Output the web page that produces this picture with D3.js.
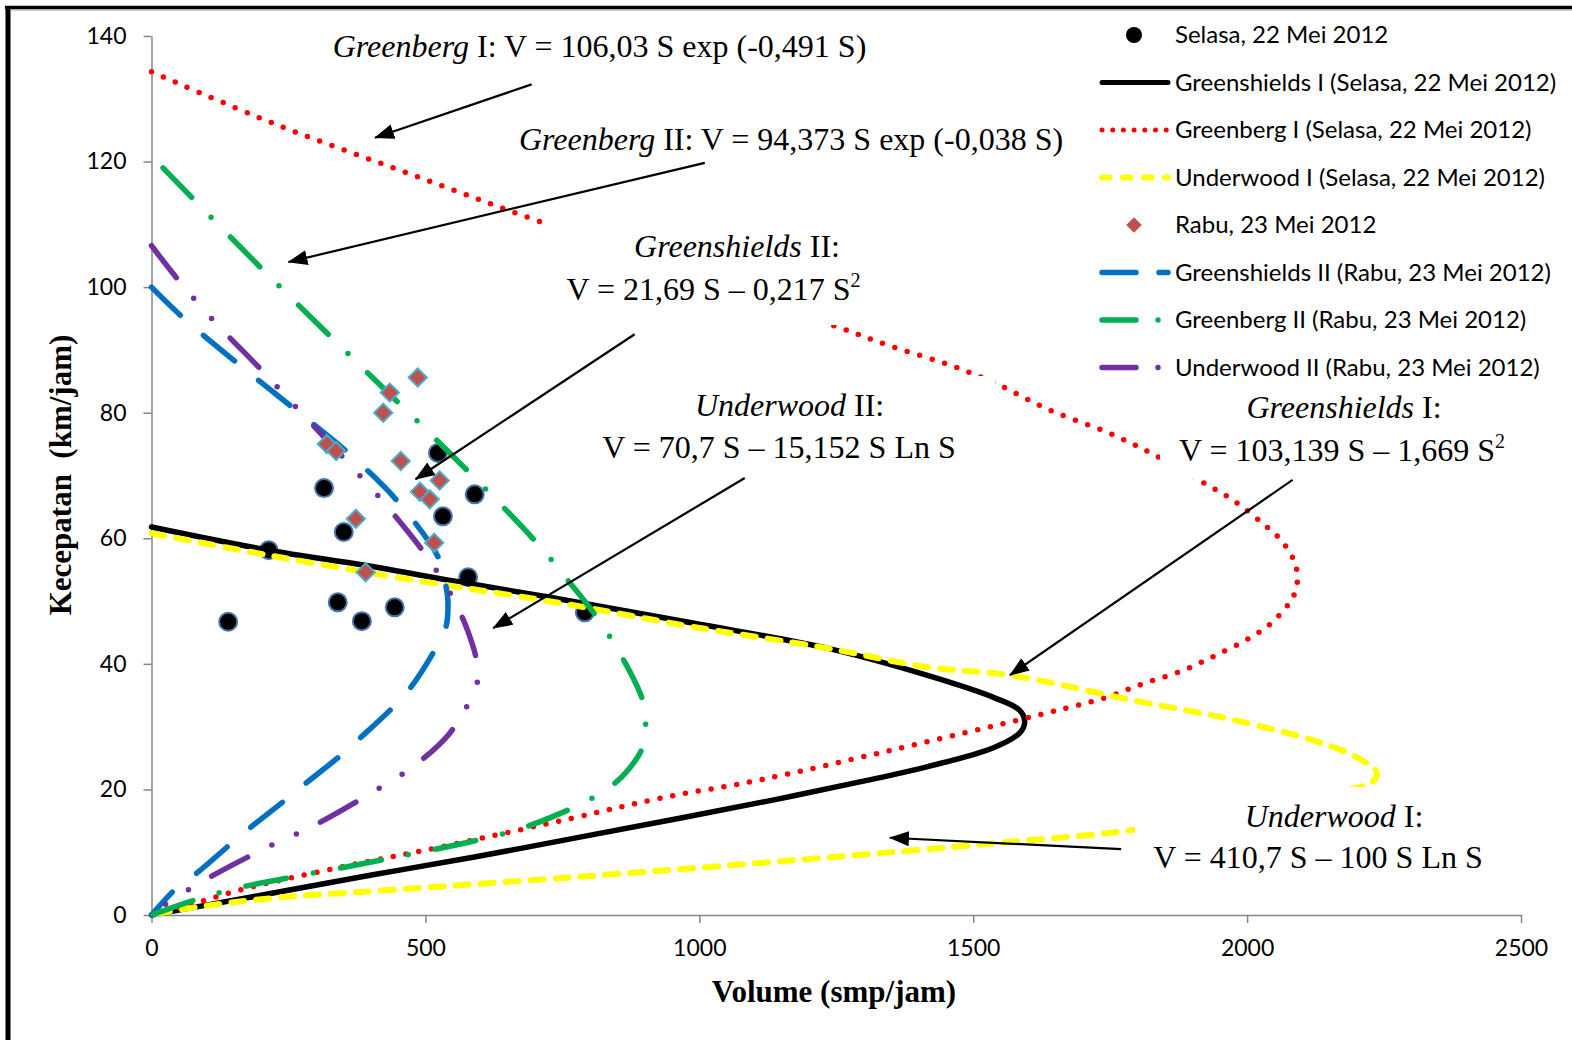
<!DOCTYPE html>
<html>
<head>
<meta charset="utf-8">
<script src="https://cdnjs.cloudflare.com/ajax/libs/d3/7.8.5/d3.min.js"></script>
<style>
  body { margin: 0; background: #fff; }
  svg { display: block; }
  .tick text { font-family: Lato, "Noto Sans", sans-serif; font-size: 23px; fill: #000; }
  .note { font-family: "Liberation Serif", "Times New Roman", serif; font-size: 32px; fill: #000; }
  .title { font-family: "Liberation Serif", "Times New Roman", serif; font-size: 31px; font-weight: bold; white-space: pre; }
  .legend text { font-family: Lato, "Noto Sans", sans-serif; font-size: 24px; fill: #000; }
</style>
</head>
<body>
<script>
// ---- data: [volume (smp/jam), speed (km/jam)] ----
var xTicks = [0, 500, 1000, 1500, 2000, 2500];
var yTicks = [0, 20, 40, 60, 80, 100, 120, 140];

var selasa = [[523,73.6],[315,68.0],[590,67.0],[532,63.5],[351,61.0],[214,58.1],
              [578,53.8],[340,49.8],[444,49.0],[140,46.7],[384,46.8],[791,48.2]];
var rabu = [[486,85.6],[435,83.2],[423,80.0],[320,75.0],[337,73.9],[455,72.3],
            [526,69.2],[490,67.4],[508,66.2],[373,63.1],[516,59.3],[391,54.6]];

var greenshields1 = [[0,61.8],[214,58.1],[389,55.7],[545,53.3],[727,50.6],[988,46.5],[1233,42.5],
  [1415,38.2],[1536,34.7],[1585,32.6],[1594,30.7],[1585,29.0],[1536,26.6],[1415,23.6],[1293,21.2],
  [1134,18.3],[964,15.4],[782,12.4],[587,9.2],[404,6.4],[222,3.5],[70,1.1],[0,0]];
var greenberg1 = [[0,134.3],[222,126.1],[466,118.2],[716,110.2],[983,101.9],[1251,93.7],[1353,90.5],
  [1457,87.6],[1545,84.5],[1640,80.4],[1744,76.9],[1828,73.4],[1913,69.2],[1974,66.1],[2028,62.4],
  [2065,59.4],[2087,56.1],[2092,53.7],[2087,51.3],[2078,49.8],[2047,46.7],[2008,44.3],[1944,41.4],
  [1881,38.9],[1809,36.8],[1744,34.7],[1676,33.1],[1603,31.5],[1353,26.3],[1110,21.5],[928,18.6],
  [767,15.4],[526,10.8],[344,7.6],[162,4.0],[92,2.2],[0,0]];
var underwood1 = [[0,60.8],[214,57.3],[454,53.7],[745,49.7],[988,45.9],[1233,42.5],[1415,39.5],
  [1567,38.2],[1791,34.2],[1974,31.1],[2156,26.8],[2218,24.2],[2237,22.6],[2229,21.2],[2218,20.7],
  [2096,18.3],[1914,15.4],[1789,13.5],[1549,11.5],[1184,8.8],[782,6.1],[404,3.8],[222,2.7],[70,1.1],[0,0]];
var greenshields2 = [[0,100],[58,95.1],[158,87.8],[258,80.8],[359,73.6],[450,65.8],[525,56.7],
  [536,53.0],[541,50.2],[537,45.7],[517,42.2],[472,36.1],[441,33.1],[381,28.2],[348,25.6],
  [282,21.0],[247,18.5],[180,13.9],[147,11.5],[83,6.7],[48,4.5],[0,0]];
var greenberg2 = [[21,119.0],[204,102.7],[393,86.5],[581,70.4],[702,59.4],[760,53.3],[813,47.4],
  [860,40.9],[897,34.1],[902,30.3],[895,26.4],[870,23.1],[842,20.7],[804,18.6],[760,16.7],
  [682,14.0],[594,11.9],[422,8.8],[249,5.9],[167,4.5],[79,2.4],[0,0]];
var underwood2 = [[0,106.6],[53,100.7],[114,94.6],[204,86.5],[267,80.6],[357,72.2],[419,66.2],
  [501,57.3],[550,50.5],[578,45.1],[594,40.1],[592,35.8],[568,32.2],[543,28.8],[483,24.0],
  [404,19.6],[291,14.0],[207,10.6],[92,5.3],[14,1.0],[0,0]];

var legendLabels = ["Selasa, 22 Mei 2012", "Greenshields I (Selasa, 22 Mei 2012)",
  "Greenberg I (Selasa, 22 Mei 2012)", "Underwood I (Selasa, 22 Mei 2012)", "Rabu, 23 Mei 2012",
  "Greenshields II (Rabu, 23 Mei 2012)", "Greenberg II (Rabu, 23 Mei 2012)",
  "Underwood II (Rabu, 23 Mei 2012)"];

// ---- layout ----
var width = 1572, height = 1040;

var svg = d3.select("body").append("svg")
    .attr("width", width)
    .attr("height", height);

svg.append("rect").attr("width", width).attr("height", height).attr("fill", "#fff");

// outer frame (only top and left edges fall inside the picture)
svg.append("line").attr("x1", 5).attr("x2", width).attr("y1", 7.5).attr("y2", 7.5)
    .attr("stroke", "#000").attr("stroke-width", 3.5);
svg.append("line").attr("x1", 8).attr("x2", 8).attr("y1", 6).attr("y2", height)
    .attr("stroke", "#000").attr("stroke-width", 5);
svg.append("line").attr("x1", 10).attr("x2", width).attr("y1", 10).attr("y2", 10)
    .attr("stroke", "#9a9a9a").attr("stroke-width", 1);

var x = d3.scaleLinear().domain([0, 2500]).range([151.5, 1521]);
var y = d3.scaleLinear().domain([0, 140]).range([915, 36]);

// axes
var xAxis = d3.axisBottom(x).tickValues(xTicks).tickSize(8).tickSizeOuter(0)
    .tickPadding(17).tickFormat(d3.format("d"));
var yAxis = d3.axisLeft(y).tickValues(yTicks).tickSize(8).tickSizeOuter(0)
    .tickPadding(17).tickFormat(d3.format("d"));

svg.append("g").attr("class", "axis")
    .attr("transform", "translate(0," + y(0) + ")")
    .attr("color", "#868686")
    .call(xAxis);
svg.append("g").attr("class", "axis")
    .attr("transform", "translate(" + x(0) + ",0)")
    .attr("color", "#868686")
    .call(yAxis);
svg.selectAll(".axis path, .axis line").attr("stroke-width", 1.5);

svg.append("text").attr("class", "title")
    .attr("x", 834).attr("y", 1002)
    .attr("text-anchor", "middle")
    .text("Volume (smp/jam)");
svg.append("text").attr("class", "title")
    .attr("transform", "translate(71,475) rotate(-90)")
    .attr("text-anchor", "middle")
    .text("Kecepatan  (km/jam)");

// Selasa dots sit under the curves
svg.append("g").selectAll("circle")
    .data(selasa)
    .enter()
    .append("circle")
    .attr("cx", function(d) { return x(d[0]); })
    .attr("cy", function(d) { return y(d[1]); })
    .attr("r", 9)
    .attr("fill", "#000")
    .attr("stroke", "#4a74a8")
    .attr("stroke-width", 2);

// model curves
var line = d3.line()
    .x(function(d) { return x(d[0]); })
    .y(function(d) { return y(d[1]); })
    .curve(d3.curveCatmullRom.alpha(0.5));

var curves = [
  { data: greenshields1, color: "#000000", w: 5.5, dash: null },
  { data: greenberg1,    color: "#FF0000", w: 5.5, dash: "0 13" },
  { data: underwood1,    color: "#FFFF00", w: 6,   dash: "13 12" },
  { data: greenshields2, color: "#0070C0", w: 5.5, dash: "40 31" },
  { data: greenberg2,    color: "#00B050", w: 5.5, dash: "41.5 27.5 0 27.5" },
  { data: underwood2,    color: "#7030A0", w: 5.5, dash: "40.5 27 0 27 0 27" }
];

svg.append("g").selectAll("path")
    .data(curves)
    .enter()
    .append("path")
    .attr("d", function(d) { return line(d.data); })
    .attr("fill", "none")
    .attr("stroke", function(d) { return d.color; })
    .attr("stroke-width", function(d) { return d.w; })
    .attr("stroke-dasharray", function(d) { return d.dash; })
    .attr("stroke-linecap", "round")
    .attr("stroke-linejoin", "round");

// Rabu diamonds on top
svg.append("g").selectAll("path")
    .data(rabu)
    .enter()
    .append("path")
    .attr("d", d3.symbol(d3.symbolSquare, 165))
    .attr("transform", function(d) { return "translate(" + x(d[0]) + "," + y(d[1]) + ") rotate(45)"; })
    .attr("fill", "#C0504D")
    .attr("stroke", "#4BACC6")
    .attr("stroke-width", 2);

// text boxes (white fill hides the curves behind them)
var boxes = [
  [328, 26, 545, 42], [514, 120, 555, 42], [548, 223, 322, 102],
  [588, 376, 407, 94], [1160, 388, 360, 91], [1135, 787, 360, 95]
];
svg.append("g").selectAll("rect")
    .data(boxes)
    .enter()
    .append("rect")
    .attr("x", function(d) { return d[0]; })
    .attr("y", function(d) { return d[1]; })
    .attr("width", function(d) { return d[2]; })
    .attr("height", function(d) { return d[3]; })
    .attr("fill", "#fff");

var notes = [
  { x: 599.5, y: 57,  parts: [["Greenberg", "i"], [" I: V = 106,03 S exp (-0,491 S)", ""]] },
  { x: 791,   y: 150, parts: [["Greenberg", "i"], [" II: V = 94,373 S exp (-0,038 S)", ""]] },
  { x: 737,   y: 257, parts: [["Greenshields", "i"], [" II:", ""]] },
  { x: 713.5, y: 300, parts: [["V = 21,69 S \u2013 0,217 S", ""], ["2", "sup"]] },
  { x: 789.6, y: 416, parts: [["Underwood", "i"], [" II:", ""]] },
  { x: 779,   y: 458, parts: [["V = 70,7 S \u2013 15,152 S Ln S", ""]] },
  { x: 1344,  y: 418, parts: [["Greenshields", "i"], [" I:", ""]] },
  { x: 1342,  y: 461, parts: [["V = 103,139 S \u2013 1,669 S", ""], ["2", "sup"]] },
  { x: 1334,  y: 827, parts: [["Underwood", "i"], [" I:", ""]] },
  { x: 1318,  y: 868, parts: [["V = 410,7 S \u2013 100 S Ln S", ""]] }
];

var noteText = svg.append("g").selectAll("text")
    .data(notes)
    .enter()
    .append("text")
    .attr("class", "note")
    .attr("x", function(d) { return d.x; })
    .attr("y", function(d) { return d.y; })
    .attr("text-anchor", "middle")
    .style("white-space", "pre");

noteText.selectAll("tspan")
    .data(function(d) { return d.parts; })
    .enter()
    .append("tspan")
    .attr("font-style", function(p) { return p[1] == "i" ? "italic" : null; })
    .attr("font-size", function(p) { return p[1] == "sup" ? 20 : null; })
    .attr("dy", function(p) { return p[1] == "sup" ? -13 : null; })
    .text(function(p) { return p[0]; });

// arrows, ends given in chart units
var arrows = [
  [[694, 132.3], [408, 123.8]],
  [[1010, 119.8], [250, 104.0]],
  [[882, 92.5], [482, 69.4]],
  [[1083, 69.6], [624, 45.7]],
  [[2083, 69.3], [1567, 38.2]],
  [[1770, 10.5], [1348, 12.3]]
];

svg.append("defs").append("marker")
    .attr("id", "head")
    .attr("markerUnits", "userSpaceOnUse")
    .attr("viewBox", "0 -8 20 16")
    .attr("refX", 19).attr("refY", 0)
    .attr("markerWidth", 20).attr("markerHeight", 16)
    .attr("orient", "auto")
    .append("path")
    .attr("d", "M0,-7.5L20,0L0,7.5Z")
    .attr("fill", "#000");

svg.append("g").selectAll("line")
    .data(arrows)
    .enter()
    .append("line")
    .attr("x1", function(d) { return x(d[0][0]); })
    .attr("y1", function(d) { return y(d[0][1]); })
    .attr("x2", function(d) { return x(d[1][0]); })
    .attr("y2", function(d) { return y(d[1][1]); })
    .attr("stroke", "#000")
    .attr("stroke-width", 2.2)
    .attr("marker-end", "url(#head)");

// legend
var legendStyles = [
  { kind: "dot" },
  { kind: "line", color: "#000000", w: 5,   dash: null },
  { kind: "line", color: "#FF0000", w: 5,   dash: "0 10.7" },
  { kind: "line", color: "#FFFF00", w: 6,   dash: "7.5 13.5" },
  { kind: "diamond" },
  { kind: "line", color: "#0070C0", w: 5.5, dash: "34 23" },
  { kind: "line", color: "#00B050", w: 5.5, dash: "34 22 0 40" },
  { kind: "line", color: "#7030A0", w: 5.5, dash: "34 22 0 40" }
];

var legend = svg.append("g").attr("class", "legend");
var item = legend.selectAll("g")
    .data(legendLabels)
    .enter()
    .append("g")
    .attr("transform", function(d, i) { return "translate(0," + (35 + i * 47.5) + ")"; });

item.each(function(d, i) {
  var g = d3.select(this);
  var s = legendStyles[i];
  if (s.kind == "dot") {
    g.append("circle").attr("cx", 1134).attr("cy", 0).attr("r", 8).attr("fill", "#000");
  } else if (s.kind == "diamond") {
    g.append("path")
      .attr("d", d3.symbol(d3.symbolSquare, 120))
      .attr("transform", "translate(1134,0) rotate(45)")
      .attr("fill", "#C0504D");
  } else {
    g.append("line")
      .attr("x1", 1102).attr("x2", 1168).attr("y1", 0).attr("y2", 0)
      .attr("stroke", s.color)
      .attr("stroke-width", s.w)
      .attr("stroke-dasharray", s.dash)
      .attr("stroke-linecap", "round");
  }
  g.append("text")
    .attr("x", 1175)
    .attr("y", 0)
    .attr("dy", "0.35em")
    .text(d);
});
</script>
</body>
</html>
